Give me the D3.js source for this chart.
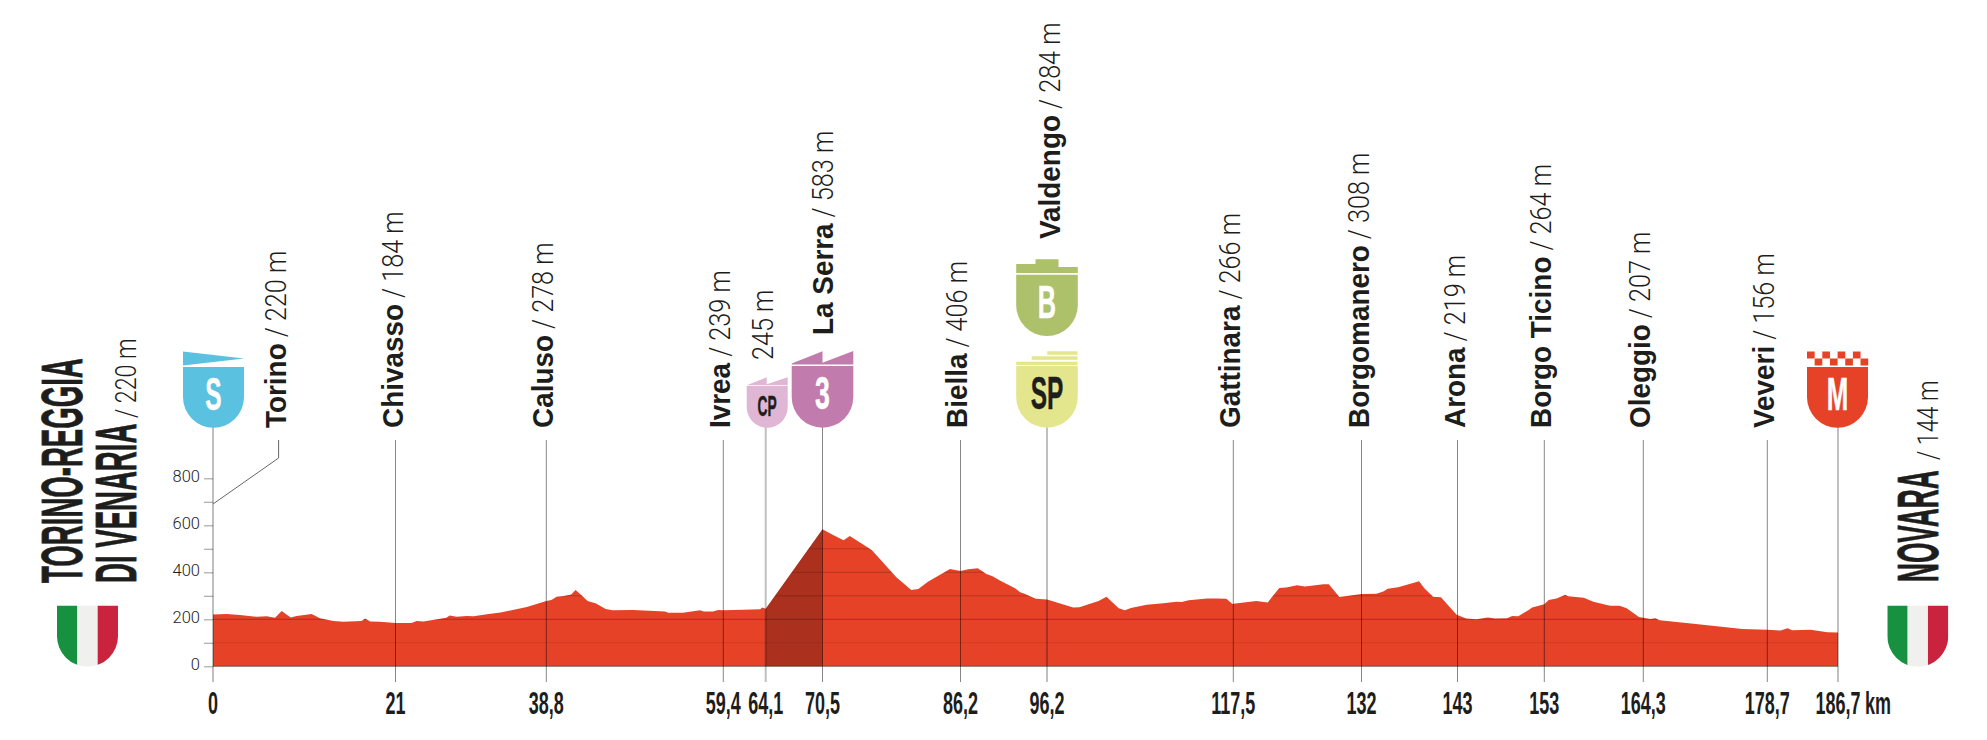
<!DOCTYPE html>
<html><head><meta charset="utf-8">
<script src="https://cdnjs.cloudflare.com/ajax/libs/d3/7.8.5/d3.min.js"></script>
<style>html,body{margin:0;padding:0;background:#fff}svg{display:block}</style>
</head><body>
<svg id="c" width="1987" height="740"></svg>
<script>
// ---------- data ----------
const profileKm = [0,1.57,3.1,5.03,6.18,7.14,7.9,8.94,9.63,11.35,12.3,13.85,15,17.1,17.5,18.1,19.2,21,22.9,23.5,24.3,27,27.4,28.2,29.4,30.2,31.8,33.4,36.5,38.8,39.4,40,40.8,41.7,42.2,42.9,43.6,44.6,45.7,46.5,48.9,52.6,53,54.7,56.7,57.1,58.2,58.8,59.4,61.6,63.5,63.7,64.1,70.5,71.7,72.9,73.6,76.1,78.9,80.6,81.4,82.5,85,86.2,87.1,88.2,89.2,89.9,90.7,92.5,93.1,93.6,94.9,96.2,99.2,99.9,102.1,103,104.4,105.1,105.8,107.6,109.5,111,111.6,112.4,114.5,115.6,116.7,117.4,117.5,120.1,121.4,122.7,123.5,124.7,125.6,127.7,128.3,129.5,132,133.7,134.5,135,136.2,137.3,138.6,139.2,140.2,141.1,142.9,144,145.2,146.5,147.3,148.7,149.3,150,151.2,151.6,153,153.5,154.4,155.4,155.7,157.5,158.6,160.5,161.6,162.4,163.8,164.3,165.1,165.7,166.2,170.4,175.8,178.7,180.2,181,181.5,183.6,185.5,186.7];
const profileElev = [220,223,218,211,213,207,235,208,214,223,204,193,190,193,203,191,190,184,184,193,191,207,216,211,214,213,221,229,252,278,282,296,299,306,325,302,278,267,244,238,240,233,228,228,238,233,233,240,239,241,243,250,245,583,559,536,555,495,379,325,329,360,414,406,413,417,393,383,366,332,315,309,287,284,250,251,278,296,247,238,248,262,268,275,274,281,288,289,287,265,266,278,272,333,335,345,340,349,349,295,308,309,318,330,336,348,362,332,296,294,219,203,200,208,203,204,214,213,240,250,264,282,288,304,298,292,275,258,258,247,210,207,201,204,196,180,159,156,152,162,153,156,145,144];
const kmTicks = [0,21,38.8,59.4,64.1,70.5,86.2,96.2,117.5,132,143,153,164.3,178.7,186.7];
const kmTickLabels = ["0","21","38,8","59,4","64,1","70,5","86,2","96,2","117,5","132","143","153","164,3","178,7","186,7"];
const elevTicks = [0,100,200,300,400,500,600,700,800];
const elevLabels = ["0","","200","","400","","600","","800"];
const placeNames = ["Torino","Chivasso","Caluso","Ivrea","","La Serra","Biella","Valdengo","Gattinara","Borgomanero","Arona","Borgo Ticino","Oleggio","Veveri"];
const placeElevs = [220,184,278,239,245,583,406,284,266,308,219,264,207,156];
const placeKms = [7.55,21,38.8,59.4,64.1,70.5,86.2,96.2,117.5,132,143,153,164.3,178.7];
const startName = "TORINO-REGGIA", startName2 = "DI VENARIA", startElev = 220;
const finishName = "NOVARA", finishElev = 144;
const climbRange = [64.1,70.5];

// ---------- layout ----------
const kmStops = kmTicks;
const pxStops = [213,395.5,546.3,723.3,765.7,822.5,960.5,1047,1233.3,1361.5,1457.5,1544.3,1643.3,1767.3,1838];
const x = d3.scaleLinear().domain(kmStops).range(pxStops);
const y = d3.scaleLinear().domain([0,800]).range([666.3,478.3]);
const ink = "#1d1d1b", red = "#e54228";
const svg = d3.select("#c");
const defs = svg.append("defs");
const profile = profileKm.map((k,i)=>({k,e:profileElev[i]}));
const area = d3.area().x(d=>x(d.k)).y0(y(0)).y1(d=>y(d.e));

defs.append("clipPath").attr("id","prof").append("path").attr("d",area(profile));
defs.append("clipPath").attr("id","climb").append("rect")
  .attr("x",x(climbRange[0])).attr("width",x(climbRange[1])-x(climbRange[0])).attr("y",400).attr("height",300);

// area
svg.append("path").attr("d",area(profile)).attr("fill",red);
svg.append("path").attr("d",area(profile)).attr("fill","#000").attr("opacity",.25).attr("clip-path","url(#climb)");

// grid inside the profile
const gridAlpha = {100:.09,200:.27,300:.2,400:.2,500:.2};
svg.append("g").attr("clip-path","url(#prof)").selectAll("line").data(elevTicks.filter(d=>d>0&&d<600)).join("line")
  .attr("x1",x(0)).attr("x2",x(186.7)).attr("y1",d=>y(d)).attr("y2",d=>y(d))
  .attr("stroke","#000").attr("stroke-opacity",d=>gridAlpha[d]).attr("stroke-width",1);
svg.append("line").attr("x1",x(0)).attr("x2",x(186.7)).attr("y1",y(0)).attr("y2",y(0)).attr("stroke","#000").attr("stroke-opacity",.45);

// y axis
const yAxis = d3.axisLeft(y).tickValues(elevTicks).tickSize(9).tickPadding(4).tickFormat((d,i)=>elevLabels[i]);
const ga = svg.append("g").attr("transform",`translate(${x(0)},0)`).call(yAxis);
ga.select(".domain").remove();
ga.selectAll("line").attr("stroke","#aaa").attr("stroke-width",1.2);
ga.selectAll("text").attr("font-family","Roboto").attr("font-weight",300).attr("font-size",16.5).attr("fill",ink)
  .attr("y",3).attr("dy",0);

// vertical markers
const wideKm = new Set([0,64.1,96.2,186.7]);
const shieldKm = new Set([0,64.1,70.5,96.2,186.7]);
svg.append("g").selectAll("line").data(kmTicks).join("line")
  .attr("x1",d=>x(d)).attr("x2",d=>x(d))
  .attr("y1",d=>shieldKm.has(d)?427:440).attr("y2",682)
  .attr("stroke","#000")
  .attr("stroke-opacity",d=>wideKm.has(d)?.25:.47)
  .attr("stroke-width",d=>wideKm.has(d)?2:1);

// Torino leader
const torinoX = x(placeKms[0]);
svg.append("path").attr("d",d3.line()([[x(0),504],[torinoX,458],[torinoX,440]]))
  .attr("fill","none").attr("stroke","#666").attr("stroke-width",1);

// km tick labels
const kmFont = 31, kmScale = .58;
svg.append("g").selectAll("text").data(kmTicks).join("text")
  .attr("transform",d=>`translate(${x(d)},714) scale(${kmScale},1)`)
  .attr("text-anchor","middle").attr("font-family","Liberation Sans").attr("font-weight",700)
  .attr("font-size",kmFont).attr("fill",ink)
  .text((d,i)=>kmTickLabels[i]);
svg.append("text").attr("transform",`translate(${x(186.7)+27},714) scale(${kmScale},1)`)
  .attr("font-family","Liberation Sans").attr("font-weight",700).attr("font-size",kmFont).attr("fill",ink).text("km");

// place labels
const labelDx = {"La Serra":10,"Valdengo":12.5,"Biella":6,"Oleggio":6.5};
const labelBottom = {"La Serra":335,"Valdengo":239,"":360};
const nameScale = .93, elevScale = .87;
placeKms.forEach((k,i)=>{
  const nm = placeNames[i];
  const g = svg.append("g").attr("transform",`translate(${x(k)+(labelDx[nm]||7)},${labelBottom[nm]||428}) rotate(-90)`);
  const t = g.append("text").attr("transform",`scale(${nameScale},1)`)
    .attr("font-family","Liberation Sans").attr("font-weight",700).attr("font-size",30).attr("fill",ink).text(nm);
  const len = nm ? t.node().getComputedTextLength()*nameScale+6 : 0;
  g.append("text").attr("transform",`translate(${len},0) scale(${elevScale},1)`)
    .attr("font-family","Roboto").attr("font-weight",300).attr("font-size",29).attr("fill",ink)
    .text((nm?"/ ":"")+placeElevs[i]+" m");
});

// start / finish titles
function title(bx,by,name,sx){
  return svg.append("text").attr("transform",`translate(${bx},${by}) rotate(-90) scale(${sx},1)`)
    .attr("font-family","Liberation Sans").attr("font-weight",700).attr("font-size",57)
    .attr("fill",ink).attr("stroke",ink).attr("stroke-width",.8).text(name);
}
function sub(bx,by,t,sx){
  svg.append("text").attr("transform",`translate(${bx},${by}) rotate(-90) scale(${sx},1)`)
    .attr("font-family","Roboto").attr("font-weight",300).attr("font-size",29).attr("fill",ink).text(t);
}
title(81.7,583,startName,.484);
title(135.7,583,startName2,.484);
sub(135.7,418,"/ "+startElev+" m",.8);
title(1938,582,finishName,.46);
sub(1938,460,"/ "+finishElev+" m",.8);

// shields
const shieldPath=(cx,top,bottom,w)=>{const r=w/2;return `M${cx-r},${top}H${cx+r}V${bottom-r}A${r},${r} 0 0 1 ${cx-r},${bottom-r}Z`;};
function shield(km,top,bottom,w,color,letter,letterColor,size,sx,dxx){
  const cx=x(km)+(dxx||0);
  svg.append("path").attr("d",shieldPath(cx,top,bottom,w)).attr("fill",color);
  svg.append("text").attr("transform",`translate(${cx},${(top+bottom)/2+size*.33-(w>50?3:1)}) scale(${sx},1)`)
    .attr("text-anchor","middle").attr("font-family","Liberation Sans").attr("font-weight",700)
    .attr("font-size",size).attr("fill",letterColor).attr("stroke",letterColor).attr("stroke-width",.5).text(letter);
  return cx;
}
// Start
let cx=shield(0,367,427.7,61,"#5ac1e0","S","#fff",47,.52,.5);
svg.append("path").attr("d",`M${cx-30.5},351.5L${cx+30.5},358.5L${cx-30.5},365.5Z`).attr("fill","#5ac1e0");
// CP
cx=shield(64.1,386,427.7,41,"#e0b6d5","CP",ink,30,.46,1.5);
svg.append("path").attr("d",`M${cx-20.5},385.3L${cx-.5},377.3V384.3L${cx+20.5},377.3V385.3Z`).attr("fill","#e0b6d5");
// GPM 3
cx=shield(70.5,366,427.7,61.6,"#c27bad","3","#fff",46,.58,0);
svg.append("path").attr("d",`M${cx-30.8},363.5L${cx},351.3V362.7L${cx+30.8},351V364.5H${cx-30.8}Z`).attr("fill","#c27bad");
// Bonus
cx=shield(96.2,274.7,336,61.6,"#adc06a","B","#fff",46,.55,0);
svg.append("path").attr("d",`M${cx-30.8},264V272.9H${cx+30.8}V267H${cx+11.5}V259.3H${cx-11.5}V264Z`).attr("fill","#adc06a");
// Sprint
cx=shield(96.2,366,427.7,61.6,"#e3e68c","SP",ink,47,.52,0);
[[0,361.7],[15.5,356.3],[31,351.3]].forEach(([dx,t])=>{
  svg.append("rect").attr("x",cx-30.8+dx).attr("y",t).attr("width",61.3-dx).attr("height",3.5).attr("fill","#e3e68c");
});
// Finish
cx=shield(186.7,367,427.7,61,red,"M","#fff",47,.55,-.5);
d3.range(8).forEach(i=>{
  svg.append("rect").attr("x",cx-30.5+i*7.65).attr("y",i%2?358.5:351.5).attr("width",7.65).attr("height",7).attr("fill",red);
});

// flags
function flag(fx,id){
  const cxf=fx+30.5;
  defs.append("clipPath").attr("id",id).append("path").attr("d",shieldPath(cxf,605.7,666.7,61));
  const g=svg.append("g").attr("clip-path",`url(#${id})`);
  ["#17913f","#f0f0ee","#c9233e"].forEach((c,i)=>g.append("rect").attr("x",fx+i*20.33).attr("y",605).attr("width",20.34).attr("height",62).attr("fill",c));
}
flag(57,"f1"); flag(1887.3,"f2");
</script>
</body></html>
